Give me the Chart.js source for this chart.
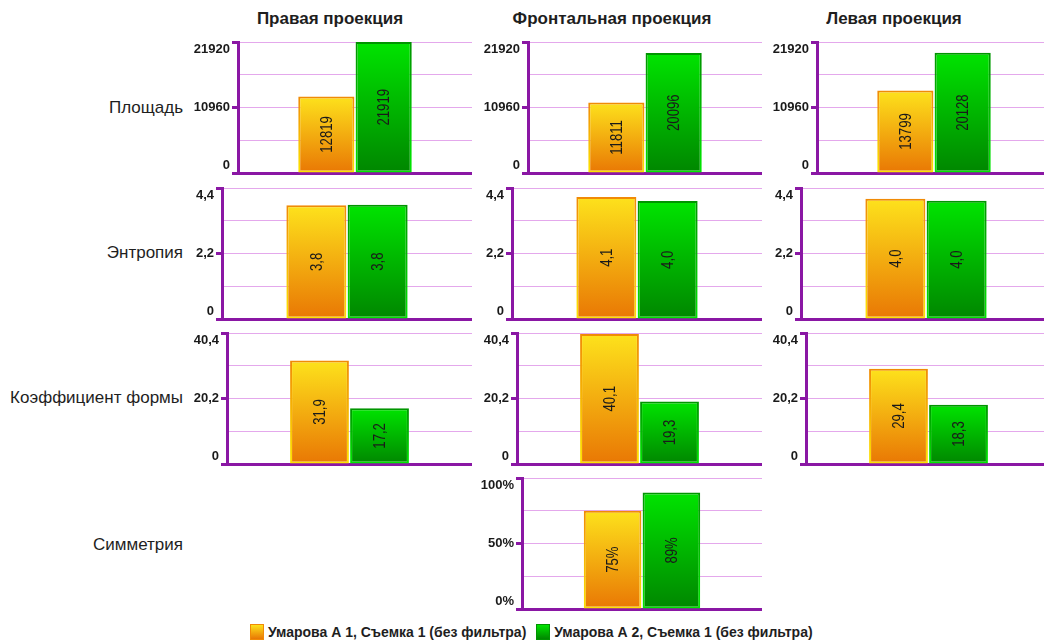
<!DOCTYPE html>
<html>
<head>
<meta charset="utf-8">
<title>Проекции</title>
<script src="https://cdn.jsdelivr.net/npm/chart.js@4.4.1/dist/chart.umd.min.js"></script>
<style>
  html, body { margin: 0; padding: 0; background: #fff; }
  #page { position: relative; width: 1044px; height: 643px; overflow: hidden;
          font-family: "Liberation Sans", Arial, sans-serif; color: #1e1e1e; }
  .title { position: absolute; top: 9px; font-weight: bold; font-size: 17px;
           transform: translateX(-50%); white-space: nowrap; }
  .rowlabel { position: absolute; right: 861px; font-size: 17px;
              transform: translateY(-50%); white-space: nowrap; }
  canvas { position: absolute; }
  #legend { position: absolute; top: 624px; left: 250px; display: flex; align-items: center;
            font-weight: bold; font-size: 14px; white-space: nowrap; }
  .swatch { width: 14px; height: 16px; box-sizing: border-box; margin-right: 4px; }
  .item { display: flex; align-items: center; margin-right: 10px; }
</style>
</head>
<body>
<div id="page"></div>
<script>
// Column and row headings
const projections = ['Правая проекция', 'Фронтальная проекция', 'Левая проекция'];
const metrics = ['Площадь', 'Энтропия', 'Коэффициент формы', 'Симметрия'];
const seriesNames = ['Умарова А 1, Съемка 1 (без фильтра)', 'Умарова А 2, Съемка 1 (без фильтра)'];

// Values per projection: right, frontal, left (null = not measured)
const areaA1 = [12819, 11811, 13799];
const areaA2 = [21919, 20096, 20128];
const entropyA1 = [3.82, 4.10, 4.04];
const entropyA2 = [3.84, 3.96, 3.97];
const shapeA1 = [31.9, 40.1, 29.4];
const shapeA2 = [17.2, 19.3, 18.3];
const symmetryA1 = [null, 75, null];
const symmetryA2 = [null, 89, null];

// Axis maxima and labelled ticks (0, half, max)
const areaMax = 21920, entropyMax = 4.4, shapeMax = 40.4, symmetryMax = 100;
const areaTicks = ['0', '10960', '21920'];
const entropyTicks = ['0', '2,2', '4,4'];
const shapeTicks = ['0', '20,2', '40,4'];
const symmetryTicks = ['0%', '50%', '100%'];

const decimal = v => v.toFixed(1).replace('.', ',');
const rows = [
  { a: areaA1, b: areaA2, max: areaMax, ticks: areaTicks, fmt: v => String(Math.round(v)) },
  { a: entropyA1, b: entropyA2, max: entropyMax, ticks: entropyTicks, fmt: decimal },
  { a: shapeA1, b: shapeA2, max: shapeMax, ticks: shapeTicks, fmt: decimal },
  { a: symmetryA1, b: symmetryA2, max: symmetryMax, ticks: symmetryTicks, fmt: v => Math.round(v) + '%' }
];

// Panel geometry
const rowTop = [42, 188, 333, 478];
const plotHeight = 131;
const axisLeft = [238, 222, 227, 232];
const colShift = [0, 290, 579];
const colRight = [472, 762, 1051];
const titleCenter = [330, 612, 894];
const rowCenter = [108, 253, 398, 545];
const axisBox = 50, padV = 10;

const PURPLE = '#8a17a4';
const GRID = '#e4a8ec';
const FONT = '"Liberation Sans", Arial, sans-serif';
const CLEAR = 'rgba(0,0,0,0)';

const palettes = [
  { fill: ['#fde21c', '#e97704'], edge: ['#f08a06', '#fde400'] },
  { fill: ['#00e400', '#008600'], edge: ['#009400', '#00e800'] }
];

const page = document.getElementById('page');

projections.forEach((t, i) => {
  const d = document.createElement('div');
  d.className = 'title';
  d.style.left = titleCenter[i] + 'px';
  d.textContent = t;
  page.appendChild(d);
});
metrics.forEach((t, i) => {
  const d = document.createElement('div');
  d.className = 'rowlabel';
  d.style.top = rowCenter[i] + 'px';
  d.textContent = t;
  page.appendChild(d);
});

// Legend
const legend = document.createElement('div');
legend.id = 'legend';
seriesNames.forEach((name, i) => {
  const item = document.createElement('div');
  item.className = 'item';
  const sw = document.createElement('div');
  sw.className = 'swatch';
  const p = palettes[i];
  sw.style.background = `linear-gradient(${p.fill[0]}, ${p.fill[1]})`;
  sw.style.border = '1px solid ' + p.edge[0];
  const tx = document.createElement('span');
  tx.textContent = name;
  item.appendChild(sw);
  item.appendChild(tx);
  legend.appendChild(item);
});
page.appendChild(legend);

// Gradient running from a bar's top down to the zero line
function verticalGradient(ctx, colors) {
  const chart = ctx.chart;
  const y = chart.scales && chart.scales.y;
  if (ctx.type !== 'data' || !y || ctx.raw == null) return colors[1];
  const top = y.getPixelForValue(ctx.raw);
  const base = y.getPixelForValue(0);
  if (!isFinite(top) || !isFinite(base) || top === base) return colors[1];
  const g = chart.ctx.createLinearGradient(0, top, 0, base);
  g.addColorStop(0, colors[0]);
  g.addColorStop(1, colors[1]);
  return g;
}

// Rotated value text in the middle of each bar
function valueLabels(fmt) {
  return {
    id: 'valueLabels',
    afterDatasetsDraw(chart) {
      const c = chart.ctx;
      chart.data.datasets.forEach((ds, i) => {
        chart.getDatasetMeta(i).data.forEach((bar, j) => {
          const v = ds.data[j];
          if (v == null) return;
          c.save();
          c.translate(bar.x, (bar.y + bar.base) / 2);
          c.rotate(-Math.PI / 2);
          c.scale(0.82, 1);
          c.font = '16px ' + FONT;
          c.fillStyle = '#1a1a1a';
          c.textAlign = 'center';
          c.textBaseline = 'middle';
          c.fillText(fmt(v), 0, 1);
          c.restore();
        });
      });
    }
  };
}

// Top label hangs below its line, bottom label sits above it
function tickText(labels, i) {
  if (i === 0) return [labels[0], ''];
  if (i === 2) return [labels[1]];
  if (i === 4) return ['', labels[2]];
  return '';
}

function makePanel(r, col) {
  const row = rows[r];
  const va = row.a[col], vb = row.b[col];
  if (va == null && vb == null) return;
  const axisX = axisLeft[r] + colShift[col];
  const left = axisX - axisBox;
  const canvas = document.createElement('canvas');
  canvas.width = colRight[col] - left;
  canvas.height = plotHeight + 2 * padV;
  canvas.style.left = left + 'px';
  canvas.style.top = (rowTop[r] - padV) + 'px';
  page.appendChild(canvas);

  const max = row.max;
  const datasets = [va, vb].map((v, i) => ({
    label: seriesNames[i],
    data: [v],
    backgroundColor: ctx => verticalGradient(ctx, palettes[i].fill),
    borderColor: ctx => verticalGradient(ctx, palettes[i].edge),
    borderWidth: 2,
    borderSkipped: false,
    categoryPercentage: 0.49,
    barPercentage: 0.98
  }));

  const chart = new Chart(canvas, {
    type: 'bar',
    data: { labels: [''], datasets },
    options: {
      responsive: false,
      animation: false,
      devicePixelRatio: 1,
      layout: { padding: { top: padV, bottom: padV, left: 0, right: 0 } },
      plugins: { legend: { display: false }, tooltip: { enabled: false } },
      scales: {
        x: {
          grid: { display: false, drawTicks: false },
          ticks: { display: false },
          border: { display: true, color: PURPLE, width: 3 },
          afterFit: s => { s.height = 0; }
        },
        y: {
          min: 0,
          max: max,
          afterFit: s => { s.width = axisBox; s.paddingTop = 0; s.paddingBottom = 0; },
          afterBuildTicks: s => { s.ticks = [0, 1, 2, 3, 4].map(k => ({ value: max * k / 4 })); },
          ticks: {
            autoSkip: false,
            padding: 2,
            color: '#1a1a1a',
            font: { family: FONT, size: 13, weight: 'bold', lineHeight: 1.15 },
            callback: (v, i) => tickText(row.ticks, i)
          },
          grid: {
            color: ctx => (ctx.index === 0 ? CLEAR : GRID),
            lineWidth: 1,
            tickLength: 6,
            tickWidth: 3,
            tickColor: ctx => (ctx.index % 2 === 0 ? PURPLE : CLEAR)
          },
          border: { display: true, color: PURPLE, width: 3 }
        }
      }
    },
    plugins: [valueLabels(row.fmt)]
  });
  // second pass so bar gradients see the finished scale
  chart.update('none');
}

for (let r = 0; r < rows.length; r++) {
  for (let c = 0; c < projections.length; c++) makePanel(r, c);
}
</script>
</body>
</html>
